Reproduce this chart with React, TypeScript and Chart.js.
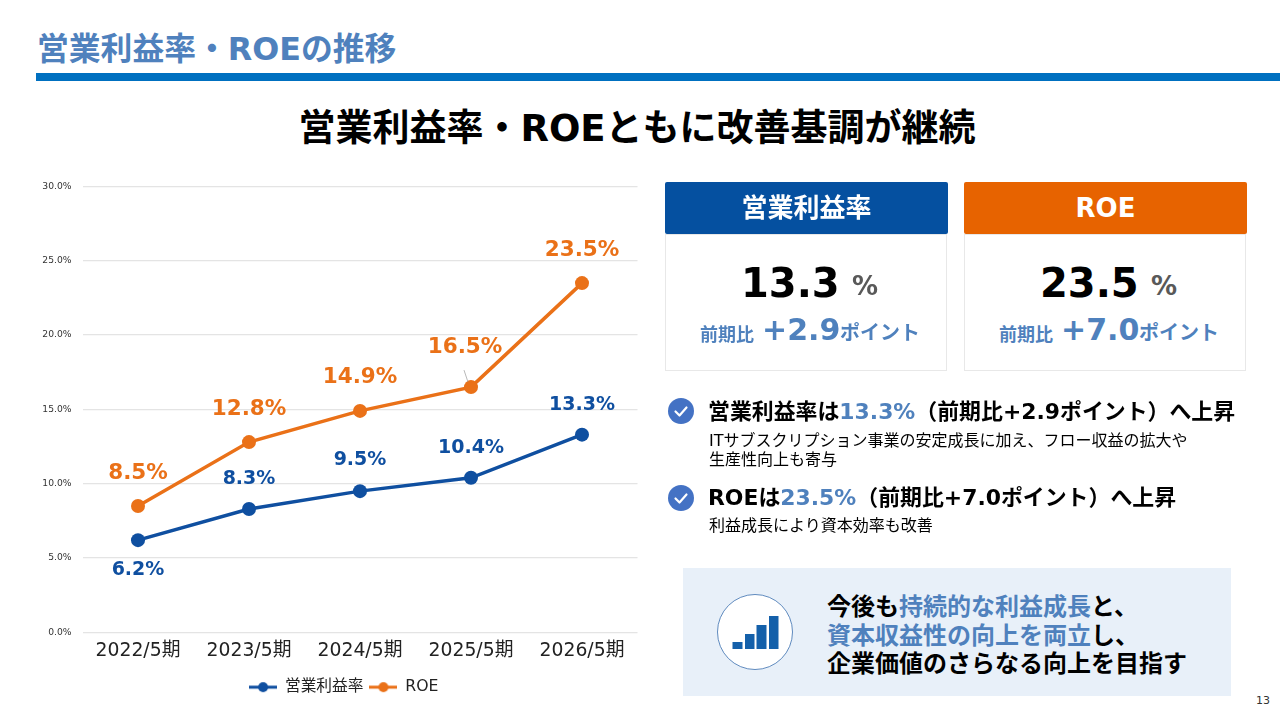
import React, { useEffect, useRef } from "react";
import { Chart, registerables } from "chart.js";

Chart.register(...registerables);

const categories = ["2022/5期", "2023/5期", "2024/5期", "2025/5期", "2026/5期"];
const operatingMargin = [6.2, 8.3, 9.5, 10.4, 13.3];
const roe = [8.5, 12.8, 14.9, 16.5, 23.5];
const yTicks = [0, 5, 10, 15, 20, 25, 30];

const marginLabelOffsets = [[0, 30], [0, -30], [0, -31], [0, -30], [0, -30]];
const roeLabelOffsets = [[0, -33], [0, -33], [0, -33], [-6, -40], [0, -33]];

const BLUE = "#0F4FA0";
const ORANGE = "#EA7118";
const ACCENT = "#4F81BD";
const FONT = '"DejaVu Sans", "Noto Sans CJK JP", sans-serif';
const CJK = '"Noto Sans CJK JP", sans-serif';

function legendGlyph(color: string) {
  const c = document.createElement("canvas");
  c.width = 28;
  c.height = 14;
  const x = c.getContext("2d")!;
  x.strokeStyle = color;
  x.lineWidth = 3;
  x.beginPath();
  x.moveTo(0, 7);
  x.lineTo(28, 7);
  x.stroke();
  x.fillStyle = color;
  x.beginPath();
  x.arc(14, 7, 5, 0, Math.PI * 2);
  x.fill();
  return c;
}

const legendShiftPlugin = {
  id: "legendShift",
  afterLayout(chart: any) {
    chart.legend.left += 25;
    chart.legend.right += 25;
  },
};

const labelsPlugin = {
  id: "pointLabels",
  afterDatasetsDraw(chart: any) {
    const ctx = chart.ctx;
    const sets = [
      { i: 0, off: marginLabelOffsets, color: BLUE, size: 19 },
      { i: 1, off: roeLabelOffsets, color: ORANGE, size: 21.5 },
    ];
    ctx.save();
    // thin leader lines left by the original data labels
    ctx.strokeStyle = "#9a9a9a";
    ctx.lineWidth = 0.7;
    const p3 = chart.getDatasetMeta(1).data[3];
    ctx.beginPath();
    ctx.moveTo(p3.x - 7, p3.y - 17);
    ctx.lineTo(p3.x - 3, p3.y - 5);
    ctx.stroke();
    ctx.textAlign = "center";
    ctx.textBaseline = "middle";
    for (const s of sets) {
      const meta = chart.getDatasetMeta(s.i);
      const vals = chart.data.datasets[s.i].data;
      ctx.fillStyle = s.color;
      ctx.font = `700 ${s.size}px ${FONT}`;
      meta.data.forEach((p: any, k: number) => {
        ctx.fillText(`${vals[k].toFixed(1)}%`, p.x + s.off[k][0], p.y + s.off[k][1]);
      });
    }
    ctx.restore();
  },
};

function T({ x, y, size, bold, color, align, cjk, children }: any) {
  const tx = align === "center" ? "-50%" : align === "right" ? "-100%" : "0";
  return (
    <div
      style={{
        position: "absolute",
        left: x,
        top: y,
        transform: `translate(${tx}, -50%)`,
        fontSize: size,
        fontWeight: bold ? 700 : 400,
        color: color || "#000",
        fontFamily: cjk ? CJK : FONT,
        whiteSpace: "nowrap",
        lineHeight: 1.2,
      }}
    >
      {children}
    </div>
  );
}

const A = ({ children }: any) => <span style={{ color: ACCENT }}>{children}</span>;

function Check({ x, y }: { x: number; y: number }) {
  return (
    <svg style={{ position: "absolute", left: x - 13, top: y - 13 }} width={26} height={26} viewBox="0 0 26 26">
      <circle cx={13} cy={13} r={13} fill="#4472C4" />
      <path d="M7.5 13.5 L11.5 17.5 L18.5 9.5" fill="none" stroke="#fff" strokeWidth={2.2} strokeLinecap="round" strokeLinejoin="round" />
    </svg>
  );
}

function Card({ x, color, head, value, delta }: any) {
  return (
    <>
      <div style={{ position: "absolute", left: x, top: 234, width: 282, height: 137, background: "#fff", border: "1px solid #E8E8E8", boxSizing: "border-box" }} />
      <div style={{ position: "absolute", left: x, top: 182, width: 283, height: 52, background: color, borderRadius: 2 }} />
      <T x={x + 141.5} y={209} size={26} bold color="#fff" align="center">{head}</T>
      <T x={x + 76} y={283} size={40} bold>{value}</T>
      <T x={x + 187} y={287} size={26} bold color="#595959">%</T>
      <T x={x + 35} y={335} size={18} bold color={ACCENT}>前期比</T>
      <T x={x + 97} y={330} size={30} bold color={ACCENT}>{delta}</T>
      <T x={x + 175} y={333} size={20} bold color={ACCENT}>ポイント</T>
    </>
  );
}

export default function App() {
  const ref = useRef<HTMLCanvasElement>(null);
  useEffect(() => {
    const glyphs = [legendGlyph(BLUE), legendGlyph(ORANGE)];
    const chart = new Chart(ref.current!, {
      type: "line",
      data: {
        labels: categories,
        datasets: [
          { label: "営業利益率", data: operatingMargin, borderColor: BLUE, backgroundColor: BLUE, borderWidth: 3.5, pointRadius: 7, pointHoverRadius: 7, pointBackgroundColor: BLUE, pointBorderWidth: 0, tension: 0 },
          { label: "ROE", data: roe, borderColor: ORANGE, backgroundColor: ORANGE, borderWidth: 3.5, pointRadius: 7, pointHoverRadius: 7, pointBackgroundColor: ORANGE, pointBorderWidth: 0, tension: 0 },
        ],
      },
      options: {
        responsive: false,
        animation: false,
        devicePixelRatio: 1,
        layout: { padding: { top: 13, left: 0, right: 50.5, bottom: 5 } },
        plugins: {
          tooltip: { enabled: false },
          legend: {
            position: "bottom",
            labels: {
              usePointStyle: true,
              pointStyleWidth: 28,
              padding: 6,
              color: "#222",
              font: { size: 15.7, family: FONT },
              generateLabels: (c: any) =>
                c.data.datasets.map((d: any, i: number) => ({
                  text: d.label,
                  fontColor: "#222",
                  pointStyle: glyphs[i],
                  datasetIndex: i,
                  lineWidth: 0,
                  strokeStyle: "transparent",
                  fillStyle: "transparent",
                })),
            },
          },
        },
        scales: {
          y: {
            min: 0,
            max: 30,
            afterBuildTicks: (s: any) => {
              s.ticks = yTicks.map((value) => ({ value }));
            },
            afterFit: (s: any) => {
              s.width = 82.5;
            },
            border: { display: false },
            grid: { color: "#E4E4E4", lineWidth: 1.3, drawTicks: false },
            ticks: { padding: 11, color: "#333", font: { size: 9.2, family: FONT }, callback: (v: any) => `${Number(v).toFixed(1)}%` },
          },
          x: {
            offset: true,
            afterFit: (s: any) => {
              s.height = 41;
            },
            border: { display: false },
            grid: { display: false, offset: true },
            ticks: { color: "#222", padding: 0, maxRotation: 0, font: { size: 18.8, family: FONT } },
          },
        },
      },
      plugins: [labelsPlugin, legendShiftPlugin],
    } as any);
    return () => chart.destroy();
  }, []);

  return (
    <div style={{ position: "fixed", left: 0, top: 0, width: 1280, height: 720, background: "#fff", overflow: "hidden" }}>
      <T x={37} y={49} size={31.8} bold color={ACCENT}>営業利益率・ROEの推移</T>
      <div style={{ position: "absolute", left: 36, top: 73, width: 1244, height: 8, background: "#0070C0" }} />
      <T x={637} y={129} size={37} bold align="center">営業利益率・ROEともに改善基調が継続</T>

      <canvas ref={ref} width={688} height={540} style={{ position: "absolute", left: 0, top: 170 }} />

      <Card x={665} color="#0550A0" head="営業利益率" value="13.3" delta="+2.9" />
      <Card x={964} color="#E76300" head="ROE" value="23.5" delta="+7.0" />

      <Check x={681} y={411} />
      <T x={708} y={412} size={21.9} bold>営業利益率は<A>13.3%</A>（前期比+2.9ポイント）へ上昇</T>
      <T x={709} y={441} size={16}>ITサブスクリプション事業の安定成長に加え、フロー収益の拡大や</T>
      <T x={709} y={460} size={16}>生産性向上も寄与</T>
      <Check x={681} y={498} />
      <T x={708} y={498} size={21.9} bold>ROEは<A>23.5%</A>（前期比+7.0ポイント）へ上昇</T>
      <T x={709} y={526} size={16}>利益成長により資本効率も改善</T>

      <div style={{ position: "absolute", left: 683, top: 568, width: 548, height: 128, background: "#E8F0F9" }} />
      <svg style={{ position: "absolute", left: 715, top: 592 }} width={80} height={80}>
        <circle cx={40} cy={40} r={37.5} fill="#fff" stroke="#3A6FAE" strokeWidth={0.8} />
        <rect x={17.5} y={50} width={10} height={7} fill="#1460AA" />
        <rect x={30} y={42} width={9.5} height={15} fill="#1460AA" />
        <rect x={41.5} y={33} width={10} height={24} fill="#1460AA" />
        <rect x={54} y={24} width={9.5} height={33} fill="#1460AA" />
      </svg>
      <T x={827} y={605} size={24} bold cjk>今後も<A>持続的な利益成長</A>と、</T>
      <T x={827} y={634} size={24} bold cjk><A>資本収益性の向上を両立</A>し、</T>
      <T x={827} y={662} size={24} bold cjk>企業価値のさらなる向上を目指す</T>

      <T x={1263} y={701} size={11} align="center" color="#333">13</T>
    </div>
  );
}
